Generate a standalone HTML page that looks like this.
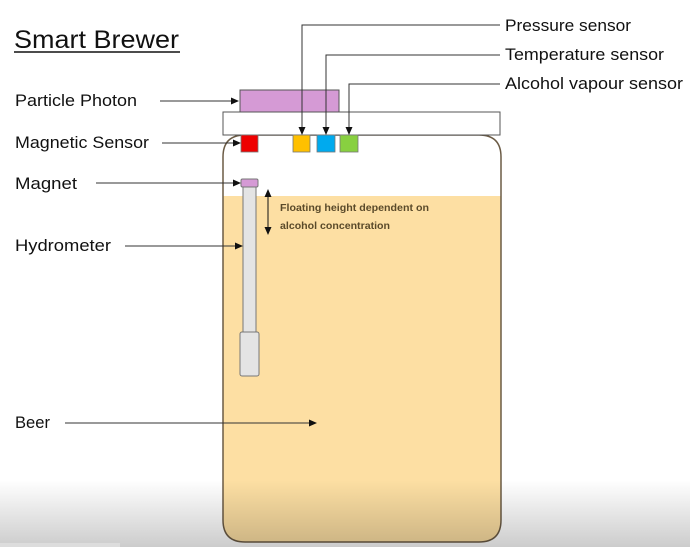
<!DOCTYPE html>
<html><head><meta charset="utf-8"><style>html,body{margin:0;padding:0;background:#fff;}svg{display:block}</style></head>
<body>
<svg width="690" height="547" viewBox="0 0 690 547" xmlns="http://www.w3.org/2000/svg" font-family="Liberation Sans, sans-serif">
<defs>
<marker id="a" markerWidth="8" markerHeight="8" refX="7" refY="4" orient="auto" markerUnits="userSpaceOnUse"><path d="M0,0.5 L8,4 L0,7.5z" fill="#111"/></marker>
<marker id="b" markerWidth="8" markerHeight="8" refX="1" refY="4" orient="auto" markerUnits="userSpaceOnUse"><path d="M8,0.5 L0,4 L8,7.5z" fill="#111"/></marker>
<linearGradient id="g" x1="0" y1="0" x2="0" y2="1"><stop offset="0" stop-color="#000" stop-opacity="0"/><stop offset="1" stop-color="#000" stop-opacity="0.2"/></linearGradient>
<clipPath id="jar"><path d="M245,135 H479 Q501,135 501,157 V520 Q501,542 479,542 H245 Q223,542 223,520 V157 Q223,135 245,135z"/></clipPath>
</defs>
<rect width="690" height="547" fill="#fff"/>
<path d="M245,135 H479 Q501,135 501,157 V520 Q501,542 479,542 H245 Q223,542 223,520 V157 Q223,135 245,135z" fill="#fff"/>
<rect x="223" y="196" width="278" height="350" fill="#fddfa3" clip-path="url(#jar)"/>
<path d="M245,135 H479 Q501,135 501,157 V520 Q501,542 479,542 H245 Q223,542 223,520 V157 Q223,135 245,135z" fill="none" stroke="#6b5b45" stroke-width="1.5"/>
<rect x="223" y="112" width="277" height="23" fill="#fff" stroke="#555" stroke-width="1"/>
<rect x="240" y="90" width="99" height="22" fill="#d59ad5" stroke="#555" stroke-width="1"/>
<rect x="241" y="135" width="17" height="17" fill="#ee0000" stroke="#777" stroke-width="0.8"/>
<rect x="293" y="135" width="17" height="17" fill="#ffc000" stroke="#777" stroke-width="0.8"/>
<rect x="317" y="135" width="18" height="17" fill="#00aaee" stroke="#777" stroke-width="0.8"/>
<rect x="340" y="135" width="18" height="17" fill="#88d040" stroke="#777" stroke-width="0.8"/>
<rect x="243" y="187" width="13" height="146" fill="#e4e4e4" stroke="#777" stroke-width="1"/>
<rect x="240" y="332" width="19" height="44" rx="2" fill="#e4e4e4" stroke="#777" stroke-width="1"/>
<rect x="241" y="179" width="17" height="8" rx="1.5" fill="#d59ad5" stroke="#777" stroke-width="1"/>
<line x1="268" y1="190" x2="268" y2="234" stroke="#111" stroke-width="1" marker-start="url(#b)" marker-end="url(#a)"/>
<text x="280" y="211" font-size="10.5" font-weight="bold" fill="#5a4a2a" textLength="149" lengthAdjust="spacingAndGlyphs">Floating height dependent on</text>
<text x="280" y="229" font-size="10.5" font-weight="bold" fill="#5a4a2a" textLength="110" lengthAdjust="spacingAndGlyphs">alcohol concentration</text>
<g stroke="#333" stroke-width="1" fill="none">
<polyline points="500,25 302,25 302,134" marker-end="url(#a)"/>
<polyline points="500,55 326,55 326,134" marker-end="url(#a)"/>
<polyline points="500,84 349,84 349,134" marker-end="url(#a)"/>
<line x1="160" y1="101" x2="238" y2="101" marker-end="url(#a)"/>
<line x1="162" y1="143" x2="240" y2="143" marker-end="url(#a)"/>
<line x1="96" y1="183" x2="240" y2="183" marker-end="url(#a)"/>
<line x1="125" y1="246" x2="242" y2="246" marker-end="url(#a)"/>
<line x1="65" y1="423" x2="316" y2="423" marker-end="url(#a)"/>
</g>
<g font-size="17" fill="#111" lengthAdjust="spacingAndGlyphs">
<text x="505" y="31" textLength="126" lengthAdjust="spacingAndGlyphs">Pressure sensor</text>
<text x="505" y="60" textLength="159" lengthAdjust="spacingAndGlyphs">Temperature sensor</text>
<text x="505" y="89" textLength="178" lengthAdjust="spacingAndGlyphs">Alcohol vapour sensor</text>
<text x="15" y="106" textLength="122" lengthAdjust="spacingAndGlyphs">Particle Photon</text>
<text x="15" y="148" textLength="134" lengthAdjust="spacingAndGlyphs">Magnetic Sensor</text>
<text x="15" y="189" textLength="62" lengthAdjust="spacingAndGlyphs">Magnet</text>
<text x="15" y="251" textLength="96" lengthAdjust="spacingAndGlyphs">Hydrometer</text>
<text x="15" y="428" textLength="35" lengthAdjust="spacingAndGlyphs">Beer</text>
</g>
<text x="14" y="48" font-size="25" fill="#111" textLength="165" lengthAdjust="spacingAndGlyphs">Smart Brewer</text>
<line x1="14" y1="52" x2="180" y2="52" stroke="#111" stroke-width="1.5"/>
<rect x="0" y="480" width="690" height="67" fill="url(#g)"/>
<rect x="0" y="543" width="120" height="4" fill="#ddd"/>
</svg>
</body></html>
